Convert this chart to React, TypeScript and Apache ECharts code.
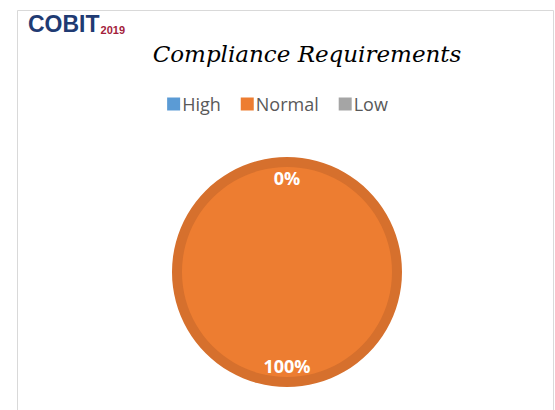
import React, { useEffect, useRef } from "react";
import * as echarts from "echarts";

const categories = ["High", "Normal", "Low"];
const values = [0, 100, 0];
const colors = ["#5B9BD5", "#ED7D31", "#A5A5A5"];
const ringColor = "#D6702D";
const titleText = "Compliance Requirements";

export default function App() {
  const ref = useRef<HTMLDivElement>(null);
  useEffect(() => {
    if (!ref.current) return;
    const chart = echarts.init(ref.current, undefined, { renderer: "svg" });
    const data = categories.map((name, i) => ({ name, value: values[i], itemStyle: { color: colors[i] } }));
    const ringData = categories.map((name, i) => ({ name, value: values[i], itemStyle: { color: ringColor } }));
    const labelData = categories.map((name, i) => ({ name, value: values[i], itemStyle: { color: "rgba(0,0,0,0)" } }));
    const center = [287, 272];
    chart.setOption({
      animation: false,
      backgroundColor: "#FFFFFF",
      title: {
        text: titleText,
        left: 302,
        textAlign: "center",
        top: 37,
        textStyle: {
          fontFamily: "DejaVu Serif",
          fontStyle: "italic",
          fontWeight: "normal",
          fontSize: 23,
          color: "#000000",
        },
      },
      legend: {
        data: categories,
        top: 90,
        left: "center",
        itemWidth: 13,
        itemHeight: 13,
        itemGap: 20,
        icon: "rect",
        textStyle: { fontFamily: "Open Sans", fontSize: 18, color: "#595959", padding: [0, 0, 0, -3] },
      },
      graphic: [
        {
          type: "rect",
          shape: { x: 17.5, y: 10.5, width: 536, height: 420 },
          style: { fill: "none", stroke: "#D9D9D9", lineWidth: 1 },
          silent: true,
        },
        {
          type: "text",
          left: 28,
          top: 12,
          style: {
            text: "{a|COBIT}{b|2019}",
            rich: {
              a: { fontFamily: "Liberation Sans", fontWeight: "bold", fontSize: 23, fill: "#1F3B73" },
              b: { fontFamily: "Liberation Sans", fontWeight: "bold", fontSize: 11, fill: "#A3213A", verticalAlign: "bottom", padding: [7, 0, 0, 1] },
            },
          },
        },
      ],
      series: [
        {
          type: "pie",
          name: "main",
          z: 3,
          center,
          radius: [0, 105],
          startAngle: 90,
          clockwise: true,
          silent: true,
          label: { show: false },
          labelLine: { show: false },
          data,
        },
        {
          type: "pie",
          name: "ring",
          z: 2,
          center,
          radius: [0, 115],
          startAngle: 90,
          clockwise: true,
          silent: true,
          label: { show: false },
          labelLine: { show: false },
          data: ringData,
        },
        {
          type: "pie",
          name: "labels",
          z: 5,
          center,
          radius: [76, 106],
          startAngle: 90,
          clockwise: true,
          silent: true,
          label: {
            show: true,
            position: "inside",
            formatter: (p: any) => Math.round(p.percent) + "%",
            fontFamily: "Open Sans",
            fontWeight: "bold",
            fontSize: 18,
            color: "#FFFFFF",
          },
          labelLine: { show: false },
          data: labelData,
        },
      ],
    });
    return () => chart.dispose();
  }, []);
  return <div ref={ref} style={{ position: "fixed", left: 0, top: 0, width: 555, height: 410 }} />;
}
